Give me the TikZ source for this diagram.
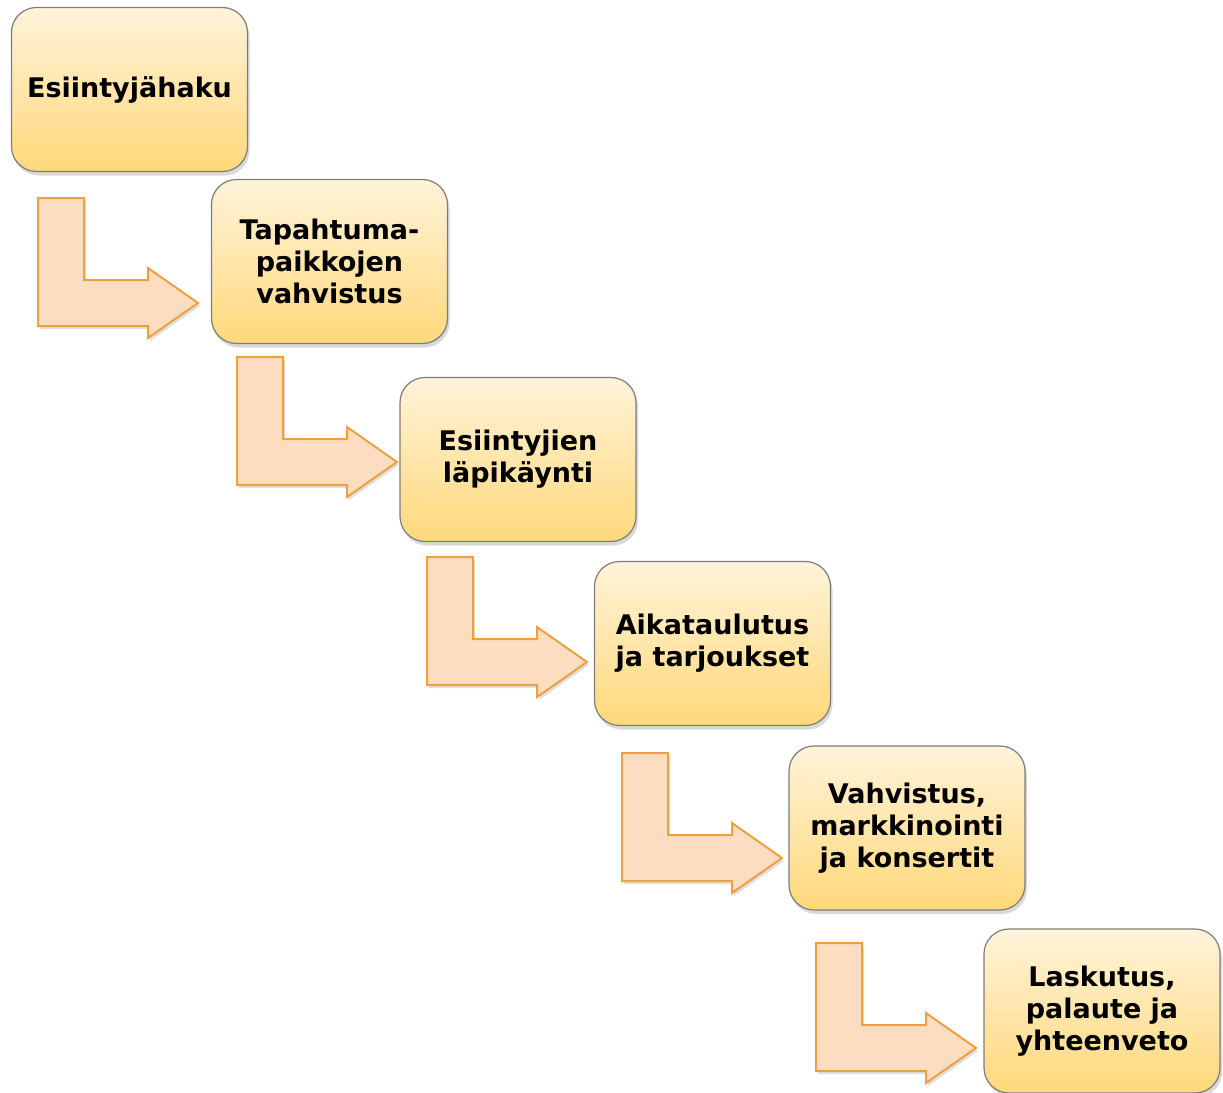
\documentclass[tikz,border=0pt]{standalone}
\usepackage{fontspec}
\setmainfont{DejaVu Sans}
\usetikzlibrary{shadows}

\definecolor{boxtop}{RGB}{255,243,218}
\definecolor{boxbottom}{RGB}{255,216,122}
\definecolor{boxline}{RGB}{125,125,125}
\definecolor{arrowfill}{RGB}{252,221,194}
\definecolor{arrowline}{RGB}{236,160,62}

\tikzset{
    stepbox/.style={draw=boxline, line width=1.2pt, rounded corners=25pt,
        top color=boxtop, bottom color=boxbottom,
        minimum width=236pt, minimum height=164pt, align=center,
        font=\fontsize{27}{32}\selectfont\bfseries,
        drop shadow={opacity=0.3, shadow xshift=2pt, shadow yshift=-4pt}},
    larrow/.style={draw=arrowline, fill=arrowfill, line width=2pt,
        drop shadow={opacity=0.25, shadow xshift=2pt, shadow yshift=-3pt}}
}

\begin{document}
\begin{tikzpicture}[x=1pt, y=-1pt]
    \useasboundingbox (0,0) rectangle (1223,1092);

    % process steps
    \node[stepbox] (s1) at (129.5,89.5) {Esiintyjähaku};
    \node[stepbox] (s2) at (329.5,261.5) {Tapahtuma-\\paikkojen\\vahvistus};
    \node[stepbox] (s3) at (518,459.5) {Esiintyjien\\läpikäynti};
    \node[stepbox] (s4) at (712.5,643.5) {Aikataulutus\\ja tarjoukset};
    \node[stepbox] (s5) at (907,828) {Vahvistus,\\markkinointi\\ja konsertit};
    \node[stepbox] (s6) at (1102,1011) {Laskutus,\\palaute ja\\yhteenveto};

    % bent arrows, placed by their tips
    \coordinate (t1) at (198,303);
    \coordinate (t2) at (397,462);
    \coordinate (t3) at (587,662);
    \coordinate (t4) at (782,858);
    \coordinate (t5) at (976,1048);

    \foreach \t in {t1,t2,t3,t4,t5}
        \draw[larrow] ([shift={(-160,-105)}]\t) -- ++(46,0) -- ++(0,82)
            -- ++(64,0) -- ++(0,-12) -- (\t) -- ++(-50,35) -- ++(0,-12)
            -- ++(-110,0) -- cycle;
\end{tikzpicture}
\end{document}
